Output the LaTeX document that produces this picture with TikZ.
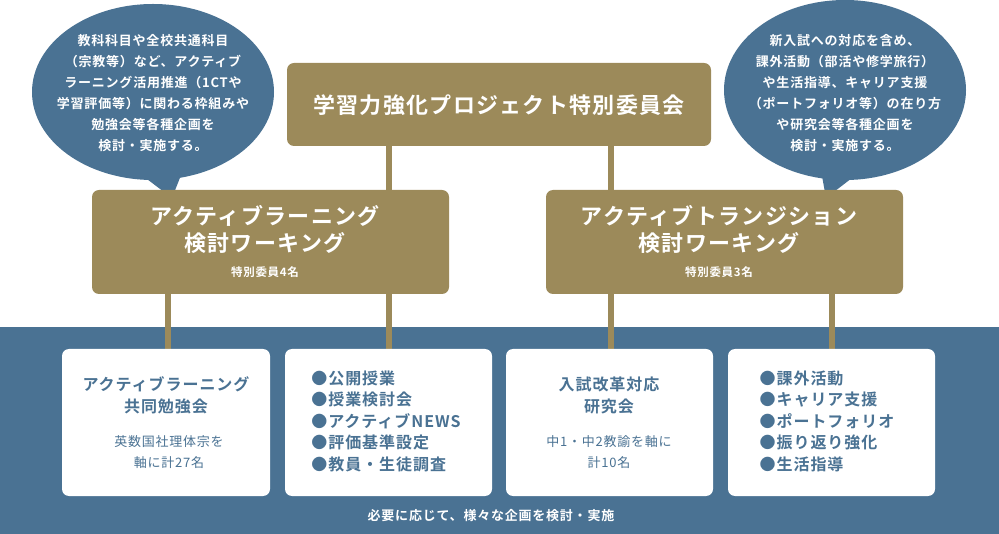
\documentclass[tikz,border=0pt]{standalone}
\usepackage{fontspec}
\setmainfont{Noto Sans CJK JP}[LetterSpace=6]
\newfontfamily\jpb{Noto Sans CJK JP Bold}[LetterSpace=6]
\begin{document}
\begin{tikzpicture}[x=1pt,y=-1pt,
  gold/.style={fill=goldc,rounded corners=7pt,draw=none},
  wbox/.style={fill=white,rounded corners=7pt,draw=none},
  conn/.style={draw=goldc,line width=6pt},
  ttl/.style={text=white,font=\jpb\fontsize{22}{27}\selectfont,align=center},
  btxt/.style={text=bluec,align=center,font=\jpb\fontsize{16}{22}\selectfont},
  stxt/.style={text=bluec,align=center,font=\fontsize{13}{21}\selectfont},
  bub/.style={text=white,align=center,font=\jpb\fontsize{13}{21}\selectfont}]
\definecolor{goldc}{HTML}{9C8A5A}
\definecolor{bluec}{HTML}{4A7293}
\useasboundingbox (0,0) rectangle (999,534);
\fill[bluec] (0,327) rectangle (999,534);
% bubbles
\fill[bluec] (153,92) ellipse [x radius=121,y radius=88];
\fill[bluec] (135,170) -- (172,198) -- (185,165) -- cycle;
\fill[bluec] (845,90) ellipse [x radius=121,y radius=90];
\fill[bluec] (820,165) -- (826,198) -- (865,168) -- cycle;
\node[bub] (b1) at (153,93) {教科科目や全校共通科目\\（宗教等）など、アクティブ\\ラーニング活用推進（1CTや\\学習評価等）に関わる枠組みや\\勉強会等各種企画を\\検討・実施する。};
\node[bub] (b2) at (845,93) {新入試への対応を含め、\\課外活動（部活や修学旅行）\\や生活指導、キャリア支援\\（ポートフォリオ等）の在り方\\や研究会等各種企画を\\検討・実施する。};
% gold boxes
\fill[gold] (287,63) rectangle (711,146);
\node[ttl] (top) at (499,105) {学習力強化プロジェクト特別委員会};
\fill[gold] (92,190) rectangle (449,294);
\fill[gold] (546,190) rectangle (903,294);
\node[ttl] (L) at (265,229) {アクティブラーニング\\検討ワーキング};
\node[text=white,font=\jpb\fontsize{11.5}{12}\selectfont] (Ln) at (265,272) {特別委員4名};
\node[ttl] (R) at (719,229) {アクティブトランジション\\検討ワーキング};
\node[text=white,font=\jpb\fontsize{11.5}{12}\selectfont] (Rn) at (719,272) {特別委員3名};
% connector anchors
\coordinate (t1) at (389,146); \coordinate (t2) at (611,146);
\coordinate (l1) at (389,190); \coordinate (r1) at (611,190);
\coordinate (l2) at (168,294); \coordinate (l3) at (389,294);
\coordinate (r2) at (611,294); \coordinate (r3) at (832,294);
\coordinate (w1) at (168,349); \coordinate (w2) at (389,349);
\coordinate (w3) at (611,349); \coordinate (w4) at (832,349);
\draw[conn] (t1) -- (l1); \draw[conn] (t2) -- (r1);
\draw[conn] (l2) -- (w1); \draw[conn] (l3) -- (w2);
\draw[conn] (r2) -- (w3); \draw[conn] (r3) -- (w4);
% white boxes
\fill[wbox] (62,349) rectangle (270,496);
\fill[wbox] (285,349) rectangle (492,496);
\fill[wbox] (506,349) rectangle (713,496);
\fill[wbox] (728,349) rectangle (935,496);
\node[btxt] (c1) at (166,395) {アクティブラーニング\\共同勉強会};
\node[stxt] (c1s) at (169,452) {英数国社理体宗を\\軸に計27名};
\node[btxt,align=left,font=\jpb\fontsize{16}{21.5}\selectfont] (c2) at (386,421) {●公開授業\\●授業検討会\\●アクティブNEWS\\●評価基準設定\\●教員・生徒調査};
\node[btxt] (c3) at (609,395) {入試改革対応\\研究会};
\node[stxt] (c3s) at (609,452) {中1・中2教諭を軸に\\計10名};
\node[btxt,align=left,font=\jpb\fontsize{16}{21.5}\selectfont] (c4) at (827,421) {●課外活動\\●キャリア支援\\●ポートフォリオ\\●振り返り強化\\●生活指導};
\node[text=white,font=\jpb\fontsize{13}{14}\selectfont] (foot) at (491,516) {必要に応じて、様々な企画を検討・実施};
\end{tikzpicture}
\end{document}
